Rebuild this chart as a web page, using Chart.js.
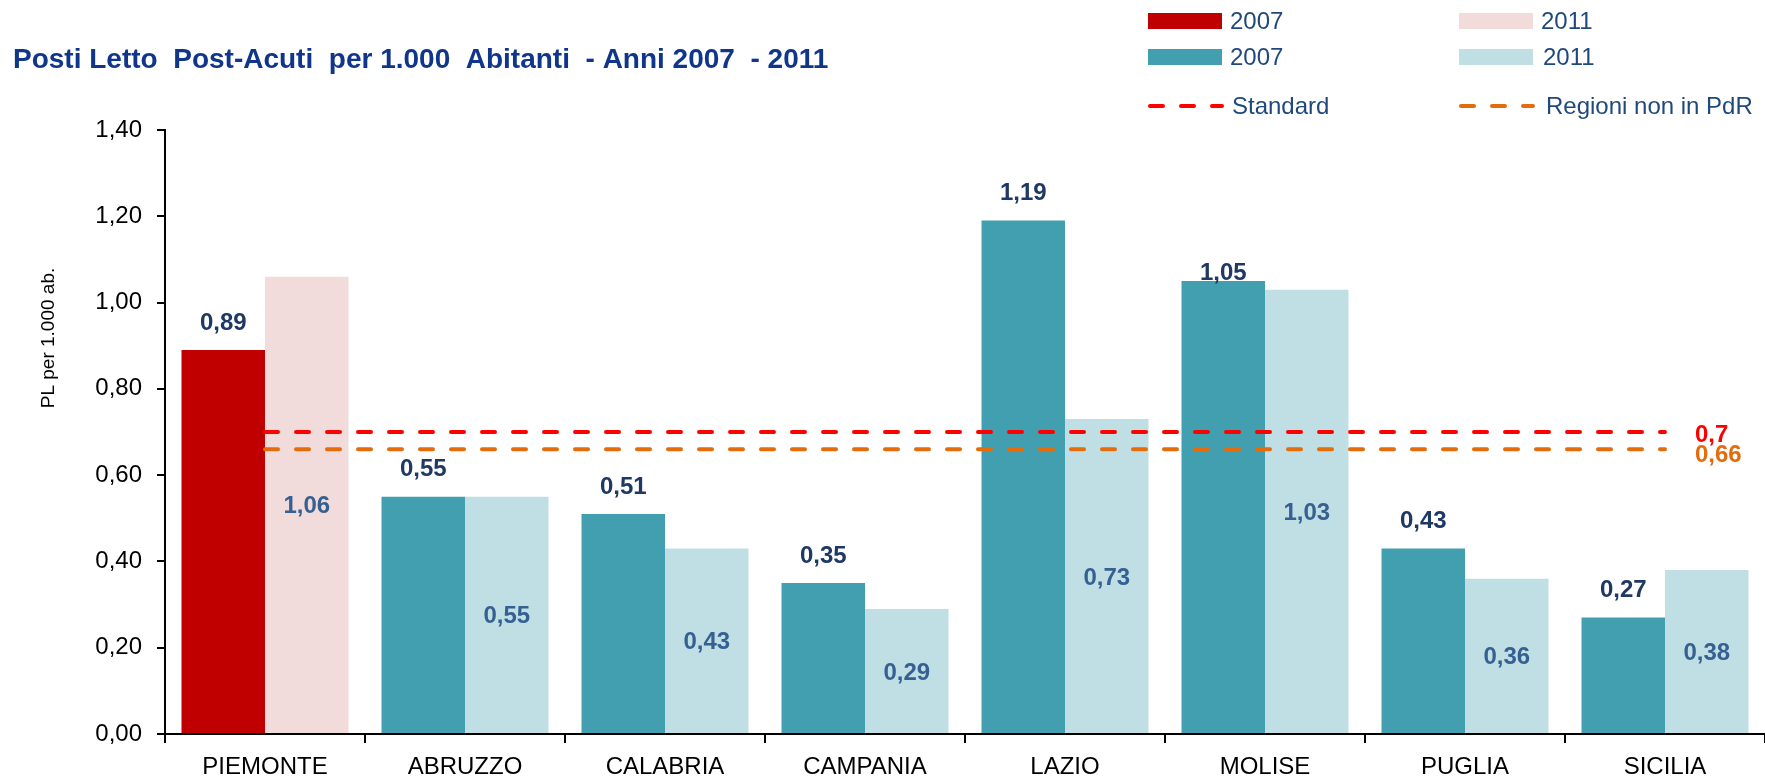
<!DOCTYPE html>
<html><head><meta charset="utf-8">
<script src="https://cdn.jsdelivr.net/npm/chart.js@4/dist/chart.umd.min.js"></script>
<style>html,body{margin:0;padding:0;background:#fff;overflow:hidden}#wrap{position:relative;width:1765px;height:778px}</style>
</head><body><div id="wrap"><canvas id="c" width="1765" height="778"></canvas></div>
<script>
const categories = ['PIEMONTE','ABRUZZO','CALABRIA','CAMPANIA','LAZIO','MOLISE','PUGLIA','SICILIA'];
const values2007 = [0.89, 0.55, 0.51, 0.35, 1.19, 1.05, 0.43, 0.27];
const values2011 = [1.06, 0.55, 0.43, 0.29, 0.73, 1.03, 0.36, 0.38];
const standardValues = [0.7, 0.7, 0.7, 0.7, 0.7, 0.7, 0.7, 0.7];
const nonPdrValues = [0.66, 0.66, 0.66, 0.66, 0.66, 0.66, 0.66, 0.66];
const yTicks = [0, 0.2, 0.4, 0.6, 0.8, 1.0, 1.2, 1.4];
const seriesNames = ['2007', '2011', 'Standard', 'Regioni non in PdR'];
const lineEndLabels = ['0,7', '0,66'];
const titleText = 'Posti Letto  Post-Acuti  per 1.000  Abitanti  - Anni 2007  - 2011';
const yAxisTitle = 'PL per 1.000 ab.';

const FONT = "'Liberation Sans', Arial, sans-serif";
const fmt2 = v => v.toFixed(2).replace('.', ',');
const C = {red:'#C00000', pink:'#F2DCDB', teal:'#419FB0', lteal:'#BFDFE4', std:'#FF0000', org:'#E46C0A',
  legendText:'#1F497D', title:'#10368C', lab07:'#1F3864', lab11:'#376092'};
const lift07 = [27, 27, 27, 27, 27, 8, 27, 27];

const decor = {
  id: 'decor',
  afterDraw(chart) {
    const ctx = chart.ctx;
    const y = chart.scales.y;
    ctx.save();
    // title
    ctx.font = 'bold 28px ' + FONT;
    ctx.fillStyle = C.title;
    ctx.textAlign = 'left';
    ctx.textBaseline = 'middle';
    ctx.fillText(titleText, 13, 60);
    // y axis title
    ctx.save();
    ctx.translate(49, 338);
    ctx.rotate(-Math.PI / 2);
    ctx.font = '19px ' + FONT;
    ctx.fillStyle = '#000';
    ctx.textAlign = 'center';
    ctx.fillText(yAxisTitle, 0, 0);
    ctx.restore();
    // legend
    const legend = [
      {x:1148, y:21, kind:'box', color:C.red, text:seriesNames[0], dx:82},
      {x:1459, y:21, kind:'box', color:C.pink, text:seriesNames[1], dx:82},
      {x:1148, y:57, kind:'box', color:C.teal, text:seriesNames[0], dx:82},
      {x:1459, y:57, kind:'box', color:C.lteal, text:seriesNames[1], dx:84},
      {x:1148, y:106, kind:'dash', color:C.std, text:seriesNames[2], dx:84},
      {x:1459, y:106, kind:'dash', color:C.org, text:seriesNames[3], dx:87}
    ];
    ctx.font = '24px ' + FONT;
    legend.forEach(e => {
      if (e.kind === 'box') {
        ctx.fillStyle = e.color;
        ctx.fillRect(e.x, e.y - 8, 74, 16);
      } else {
        ctx.save();
        ctx.strokeStyle = e.color; ctx.lineWidth = 4; ctx.lineCap = 'round';
        ctx.setLineDash([13, 18]);
        ctx.beginPath(); ctx.moveTo(e.x + 2, e.y); ctx.lineTo(e.x + 74, e.y); ctx.stroke();
        ctx.restore();
      }
      ctx.fillStyle = C.legendText;
      ctx.textAlign = 'left';
      ctx.fillText(e.text, e.x + e.dx, e.y + 1);
    });
    // data labels
    ctx.font = 'bold 24px ' + FONT;
    ctx.textAlign = 'center';
    const m07 = chart.getDatasetMeta(2), m11 = chart.getDatasetMeta(3);
    m07.data.forEach((bar, i) => {
      ctx.fillStyle = C.lab07;
      ctx.fillText(fmt2(values2007[i]), bar.x, bar.y - lift07[i]);
    });
    m11.data.forEach((bar, i) => {
      ctx.fillStyle = C.lab11;
      ctx.fillText(fmt2(values2011[i]), bar.x, (bar.y + bar.base) / 2 + 2);
    });
    // line end labels
    ctx.textAlign = 'left';
    [[standardValues, C.std, 3], [nonPdrValues, C.org, 6]].forEach((d, k) => {
      const meta = chart.getDatasetMeta(k);
      const last = meta.data[meta.data.length - 1];
      ctx.fillStyle = d[1];
      ctx.fillText(lineEndLabels[k], last.x + 30, y.getPixelForValue(d[0][d[0].length - 1]) + d[2]);
    });
    ctx.restore();
  }
};

new Chart(document.getElementById('c'), {
  type: 'bar',
  data: {
    labels: categories,
    datasets: [
      {type:'line', label:seriesNames[2], data:standardValues, borderColor:C.std, borderWidth:4,
        borderDash:[13,18], borderCapStyle:'round', pointRadius:0, fill:false, order:0},
      {type:'line', label:seriesNames[3], data:nonPdrValues, borderColor:C.org, borderWidth:4,
        borderDash:[13,18], borderCapStyle:'round', pointRadius:0, fill:false, order:0},
      {label:seriesNames[0], data:values2007, backgroundColor:categories.map((c,i)=> i===0 ? C.red : C.teal),
        categoryPercentage:0.835, barPercentage:1, order:1},
      {label:seriesNames[1], data:values2011, backgroundColor:categories.map((c,i)=> i===0 ? C.pink : C.lteal),
        categoryPercentage:0.835, barPercentage:1, order:1}
    ]
  },
  options: {
    responsive:false, animation:false,
    layout:{padding:{top:130, left:0, right:0, bottom:0}},
    plugins:{legend:{display:false}, title:{display:false}, tooltip:{enabled:false}},
    scales: {
      x: {
        z:1,
        grid:{drawOnChartArea:false, drawTicks:true, tickLength:9, color:'#000', lineWidth:2, offset:true},
        border:{color:'#000', width:2},
        ticks:{color:'#000', font:{family:FONT, size:24}, padding:10, maxRotation:0, autoSkip:false},
        afterFit(s){ s.height = 44; }
      },
      y: {
        min:0, max:1.4,
        afterBuildTicks(s){ s.ticks = yTicks.map(v => ({value:v})); },
        grid:{drawOnChartArea:false, drawTicks:true, tickLength:8, color:'#000', lineWidth:2},
        border:{color:'#000', width:2},
        ticks:{color:'#000', font:{family:FONT, size:24}, padding:15, callback:v => fmt2(v)},
        afterFit(s){ s.width = 165; }
      }
    }
  },
  plugins:[decor]
});
</script></body></html>
